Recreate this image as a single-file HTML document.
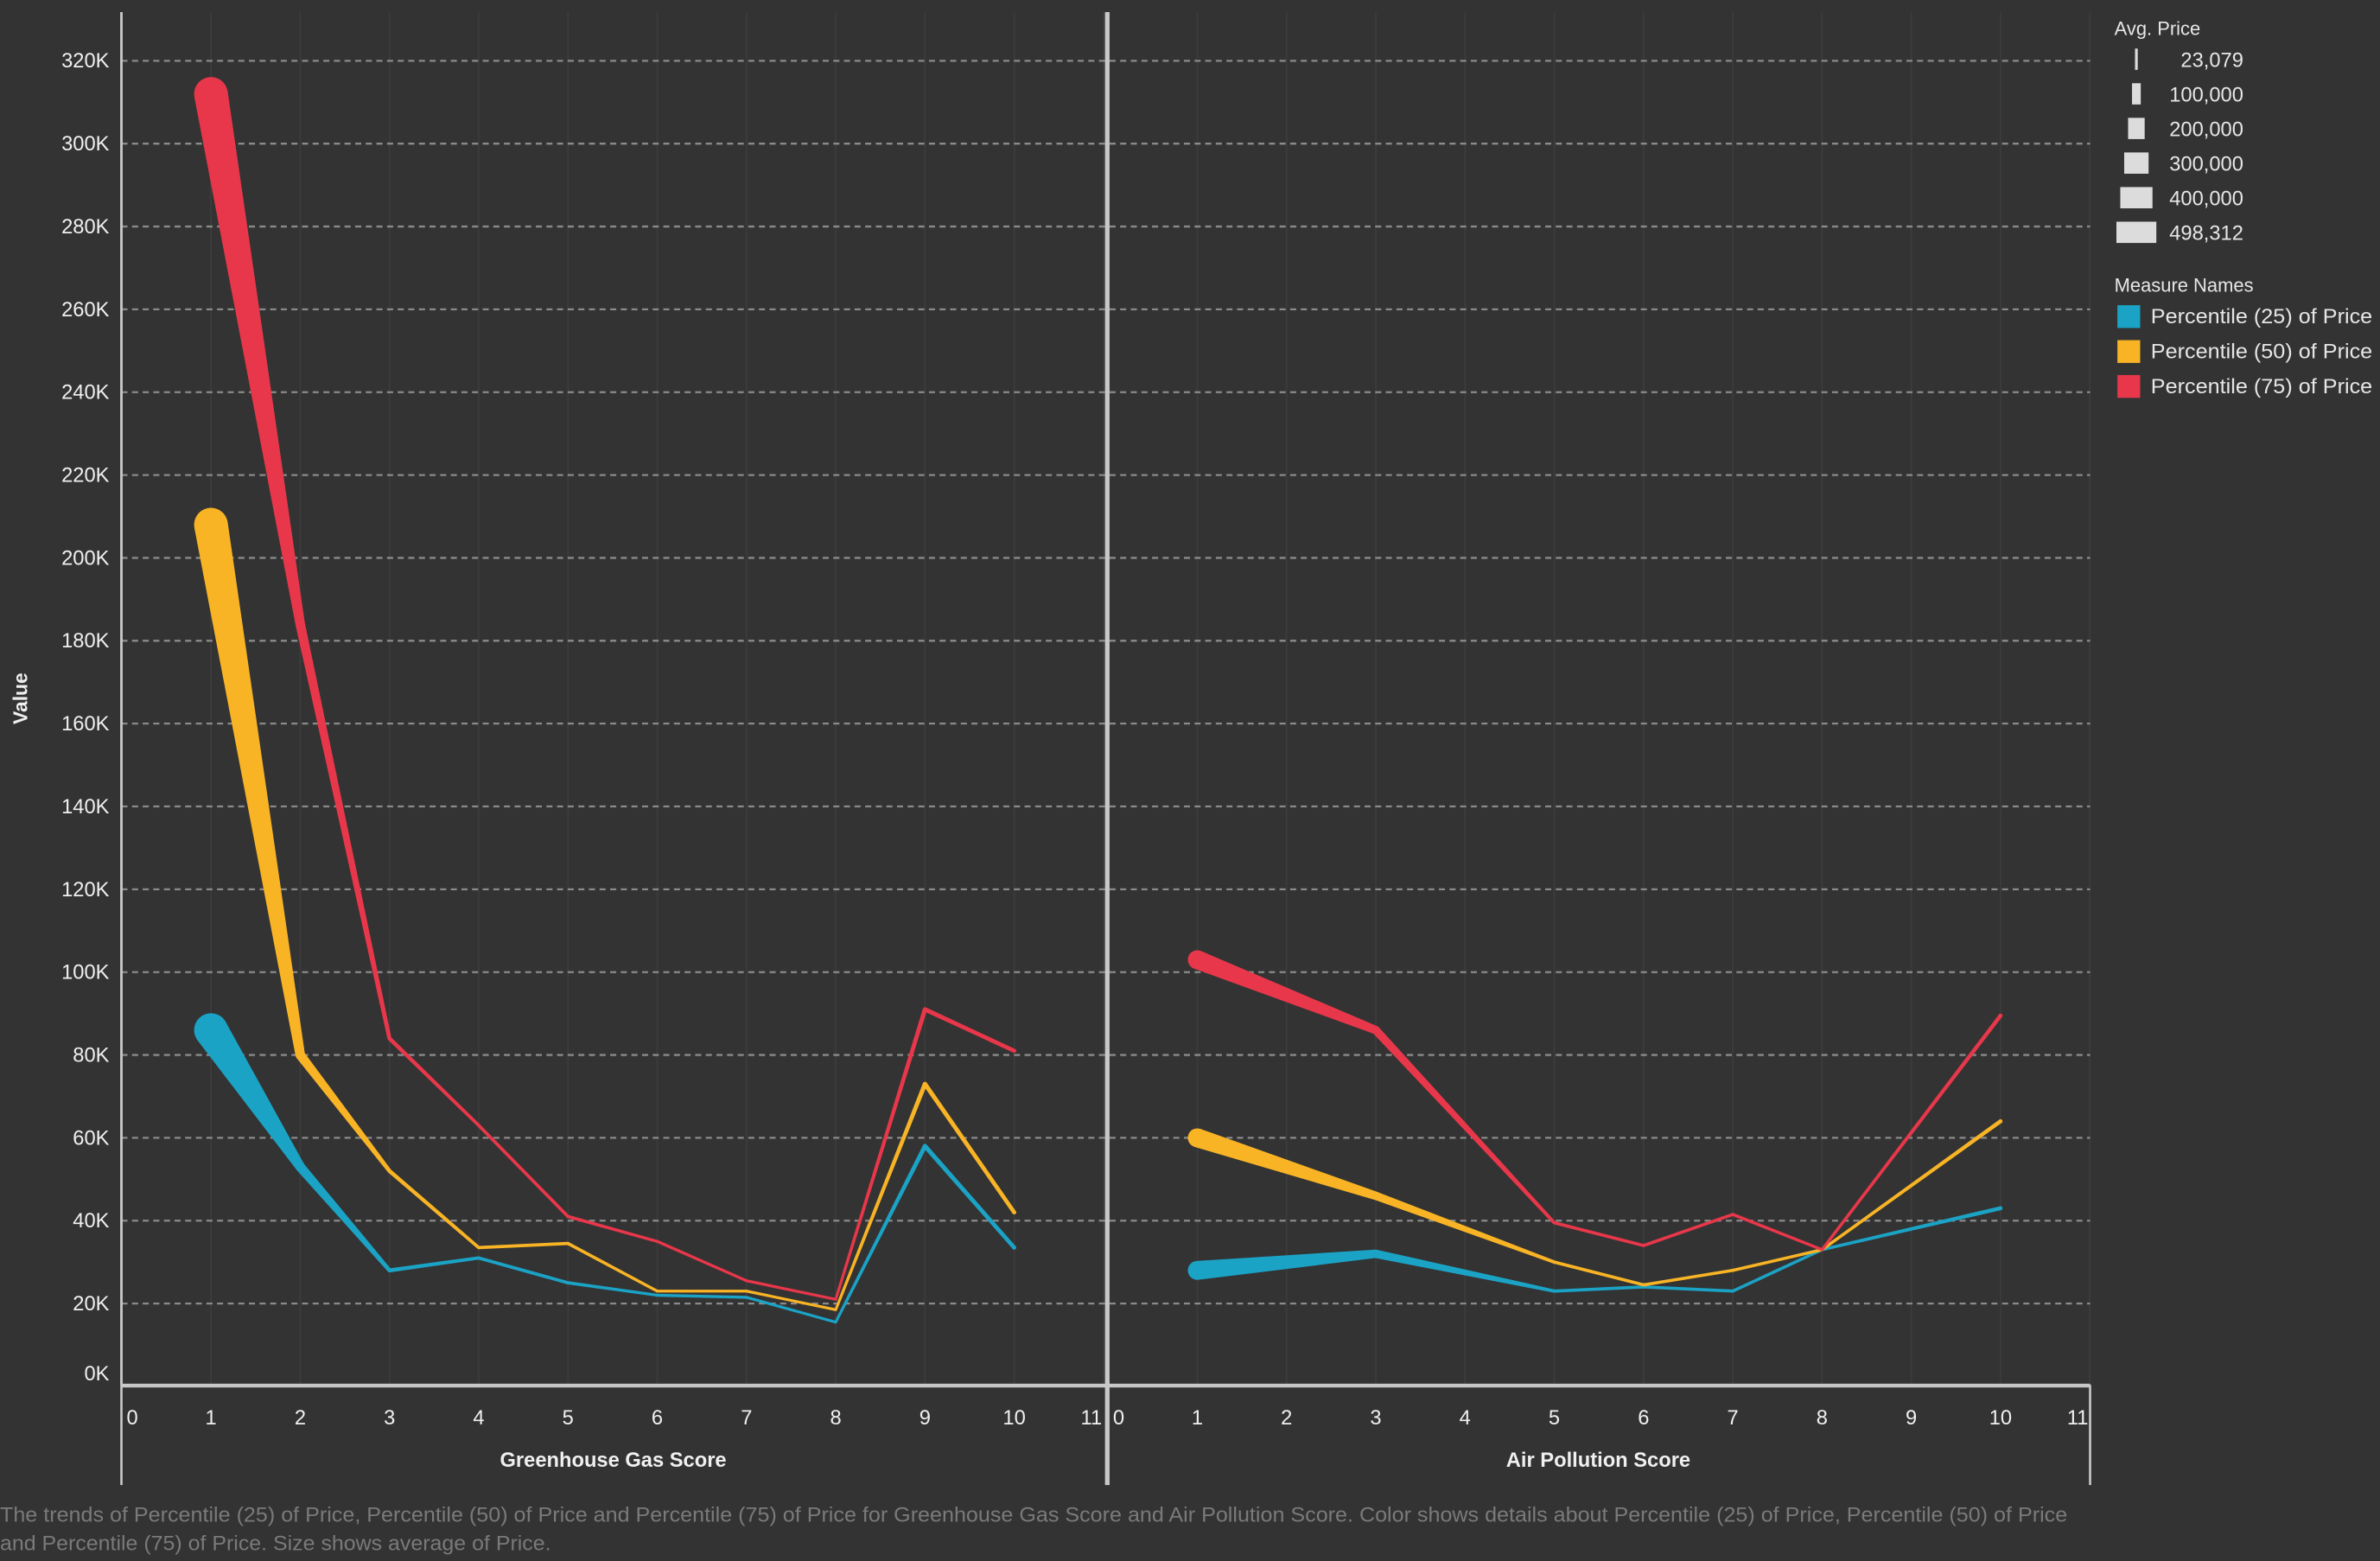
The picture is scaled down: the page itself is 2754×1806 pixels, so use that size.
<!DOCTYPE html>
<html><head><meta charset="utf-8"><style>
html,body{margin:0;padding:0;background:#333333;}
svg{display:block;font-family:"Liberation Sans",sans-serif;}
</style></head><body>
<svg id="chart" width="2754" height="1806" viewBox="0 0 1568 1028" preserveAspectRatio="none" xmlns="http://www.w3.org/2000/svg">
<rect x="0" y="0" width="1568" height="1028" fill="#333333"/>
<g id="grid"></g>
<g id="marks"></g>
<g id="axes"></g>
<text x="18" y="460" transform="rotate(-90 18 460)" fill="#f0f0f0" font-size="13" font-weight="bold" text-anchor="middle">Value</text>
<text x="404" y="966" fill="#f0f0f0" font-size="13.5" font-weight="bold" text-anchor="middle">Greenhouse Gas Score</text>
<text x="1053" y="966" fill="#f0f0f0" font-size="13.5" font-weight="bold" text-anchor="middle">Air Pollution Score</text>
<g id="legend">
<text x="1393" y="23" fill="#e6e6e6" font-size="12.5">Avg. Price</text>
<text x="1393" y="192" fill="#e6e6e6" font-size="12.5">Measure Names</text>
</g>
<text x="0" y="1002" fill="#7a7a7a" font-size="13.5" textLength="1362" lengthAdjust="spacingAndGlyphs">The trends of Percentile (25) of Price, Percentile (50) of Price and Percentile (75) of Price for Greenhouse Gas Score and Air Pollution Score.  Color shows details about Percentile (25) of Price, Percentile (50) of Price</text>
<text x="0" y="1021" fill="#7a7a7a" font-size="13.5" textLength="363" lengthAdjust="spacingAndGlyphs">and Percentile (75) of Price.  Size shows average of Price.</text>
</svg>
<script>
const ghgScores = [1,2,3,4,5,6,7,8,9,10];
const ghgP25 = [86000,53000,28000,31000,25000,22000,21500,15500,58000,33500];
const ghgP50 = [208000,80000,52000,33500,34500,23000,23000,18500,73000,42000];
const ghgP75 = [312000,184000,84000,63000,41000,35000,25500,21000,91000,81000];
const ghgAvg = [420000,110000,40000,30000,30000,25000,25000,23079,45000,40000];
const airScores = [1,3,5,6,7,8,10];
const airP25 = [28000,32000,23000,24000,23000,33000,43000];
const airP50 = [60000,46000,30000,24500,28000,33000,64000];
const airP75 = [103000,86000,39500,34000,41500,33000,89500];
const airAvg = [230000,95000,30000,28000,28000,26000,40000];
const yTicks = [0,20000,40000,60000,80000,100000,120000,140000,160000,180000,200000,220000,240000,260000,280000,300000,320000];
const xTicks = [0,1,2,3,4,5,6,7,8,9,10,11];
const sizeLegend = [23079,100000,200000,300000,400000,498312];
const seriesNames = ["Percentile (25) of Price","Percentile (50) of Price","Percentile (75) of Price"];
const seriesColors = ["#1ba3c6","#f8b425","#e8374a"];

const NS="http://www.w3.org/2000/svg";
const y0=913, yStep=54.56/20000;
const yS=v=>y0-v*yStep;
const panels=[{x0:80.2,name:"greenhouse"},{x0:730,name:"air"}];
const xStep=58.8;
const xS=(p,v)=>panels[p].x0+v*xStep;
const wS=a=>1.8+(a-23079)/(498312-23079)*24.5;
function mk(tag,attrs,parent){const e=document.createElementNS(NS,tag);for(const k in attrs)e.setAttribute(k,attrs[k]);parent.appendChild(e);return e;}
const grid=document.getElementById('grid'),marks=document.getElementById('marks'),axes=document.getElementById('axes'),legend=document.getElementById('legend');

for(let p=0;p<2;p++)for(const t of xTicks){if(t===0)continue;const x=xS(p,t);
const l=mk('line',{x1:x,x2:x,y1:8,y2:912,stroke:'#3c3c3c','stroke-width':1},grid);

}
for(const t of yTicks){const y=yS(t);
if(t>0){const l=mk('line',{x1:80,x2:1377,y1:y,y2:y,stroke:'#8a8a8a','stroke-width':1.3,'stroke-dasharray':'4,3'},grid);

}
const tx=mk('text',{x:72,y:(t===0?y-4:y+4.5),fill:'#f0f0f0','font-size':13.5,'text-anchor':'end'},axes);
tx.textContent=(t/1000)+'K';

}
for(let p=0;p<2;p++)for(const t of xTicks){let x=xS(p,t);if(t===0)x+=7;if(t===11)x-=8;
const tx=mk('text',{x:x,y:938,fill:'#f0f0f0','font-size':13.5,'text-anchor':'middle'},axes);
tx.textContent=t;

}
[[80,8,80,978,1.5],[729.5,8,729.5,978,3],[1377,912,1377,978,1.5],[80,912.5,1377,912.5,2.5],[80,8,80,912,1.5]].forEach(a=>{
const l=mk('line',{x1:a[0],y1:a[1],x2:a[2],y2:a[3],stroke:'#c8c8c8','stroke-width':a[4]},axes);

});

function drawSeries(p,xs,vals,avg,color,name){
const g=mk('g',{},marks);


for(let i=0;i<xs.length-1;i++){
const x1=xS(p,xs[i]),y1=yS(vals[i]),x2=xS(p,xs[i+1]),y2=yS(vals[i+1]);
const w1=wS(avg[i])/2,w2=wS(avg[i+1])/2;
const dx=x2-x1,dy=y2-y1,L=Math.hypot(dx,dy),nx=-dy/L,ny=dx/L;
const pts=[[x1+nx*w1,y1+ny*w1],[x2+nx*w2,y2+ny*w2],[x2-nx*w2,y2-ny*w2],[x1-nx*w1,y1-ny*w1]].map(q=>q.join(',')).join(' ');
const s=mk('polygon',{points:pts,fill:color},g);

}
for(let i=0;i<xs.length;i++){
const c=mk('circle',{cx:xS(p,xs[i]),cy:yS(vals[i]),r:wS(avg[i])/2,fill:color},g);

}
}
[ghgP25,ghgP50,ghgP75].forEach((v,i)=>drawSeries(0,ghgScores,v,ghgAvg,seriesColors[i],'greenhouse-series-p'+[25,50,75][i]));
[airP25,airP50,airP75].forEach((v,i)=>drawSeries(1,airScores,v,airAvg,seriesColors[i],'air-series-p'+[25,50,75][i]));

sizeLegend.forEach((v,i)=>{const y=39+i*22.8;const w=wS(v);
const r=mk('rect',{x:1407.5-w/2,y:y-7,width:w,height:14,fill:'#dcdcdc'},legend);


const t=mk('text',{x:1478,y:y+5,fill:'#e6e6e6','font-size':13.5,'text-anchor':'end'},legend);
t.textContent=v.toLocaleString('en-US');

});
seriesNames.forEach((n,i)=>{const y=208+i*23;
const r=mk('rect',{x:1395,y:y-7,width:15,height:15,fill:seriesColors[i]},legend);


const t=mk('text',{x:1417,y:y+5,fill:'#e6e6e6','font-size':13.5,textLength:146,lengthAdjust:'spacingAndGlyphs'},legend);
t.textContent=n;

});
</script>
</body></html>
